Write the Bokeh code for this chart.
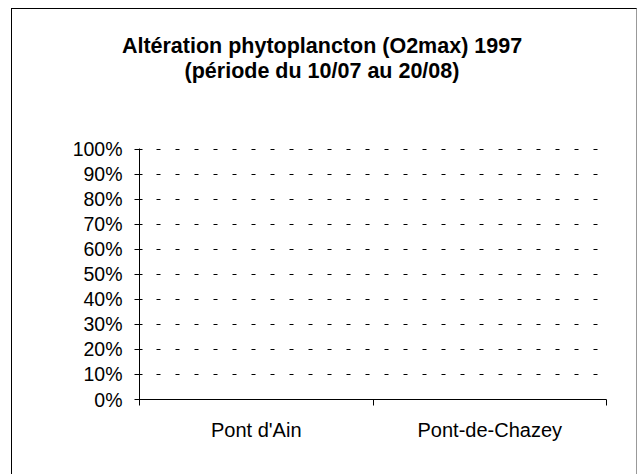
from bokeh.plotting import figure
from bokeh.models import FixedTicker, NumeralTickFormatter, Range1d, Div
from bokeh.layouts import column
from bokeh.embed import file_html
from bokeh.resources import INLINE

# ---- data ----
title_lines = ["Altération phytoplancton (O2max) 1997", "(période du 10/07 au 20/08)"]
categories = ["Pont d'Ain", "Pont-de-Chazey"]
values = [0.0, 0.0]
y_ticks = [0.0, 0.1, 0.2, 0.3, 0.4, 0.5, 0.6, 0.7, 0.8, 0.9, 1.0]

W = 624
TITLE_H = 100
H = 365
n = len(categories)
centers = [i + 0.5 for i in range(n)]
bounds = [float(i) for i in range(n + 1)]

title_html = (
    '<div style="width:624px;text-align:center;font-family:\'Liberation Sans\',Arial,sans-serif;'
    'font-weight:bold;font-size:21.5px;line-height:24.5px;color:#000;padding-top:25px;'
    'padding-right:4px;box-sizing:border-box;">'
    + "<br>".join(title_lines) + "</div>"
)
title_div = Div(text=title_html, width=W, height=TITLE_H, margin=0)

p = figure(width=W, height=H, output_backend="svg", toolbar_location=None,
           x_range=Range1d(0, n), y_range=Range1d(0, 1.003),
           min_border_left=127, min_border_right=30,
           min_border_top=39, min_border_bottom=75)
p.margin = 0
p.outline_line_color = None
p.background_fill_color = "white"
p.border_fill_color = "white"

p.vbar(x=centers, top=values, width=0.5, fill_color="#9999ff", line_color=None)

# x axis
xa = p.xaxis[0]
xa.ticker = FixedTicker(ticks=centers, minor_ticks=bounds)
xa.major_label_overrides = {c: name for c, name in zip(centers, categories)}
xa.major_tick_line_color = None
xa.major_tick_out = 0
xa.major_tick_in = 0
xa.minor_tick_line_color = "black"
xa.minor_tick_out = 6
xa.minor_tick_in = 0
xa.axis_line_color = "black"
xa.major_label_standoff = 13
xa.major_label_text_font = "Liberation Sans"
xa.major_label_text_font_size = "20px"
xa.major_label_text_color = "black"

# y axis
ya = p.yaxis[0]
ya.ticker = FixedTicker(ticks=y_ticks)
ya.formatter = NumeralTickFormatter(format="0%")
ya.major_tick_in = 3
ya.major_tick_out = 5
ya.major_tick_line_color = "black"
ya.minor_tick_line_color = None
ya.axis_line_color = "black"
ya.major_label_standoff = 12
ya.major_label_text_font = "Liberation Sans"
ya.major_label_text_font_size = "19.5px"
ya.major_label_text_color = "black"

p.xgrid.visible = False
p.ygrid.grid_line_color = "black"
p.ygrid.grid_line_dash = "4 15"
p.ygrid.grid_line_dash_offset = 2

layout = column(title_div, p, spacing=0)
layout.styles = {"margin-left": "11px", "margin-top": "8px",
                 "border-top": "1px solid #000", "border-left": "1px solid #000",
                 "border-right": "1px solid #999", "background": "white"}

open("out.html", "w").write(file_html(layout, INLINE))
